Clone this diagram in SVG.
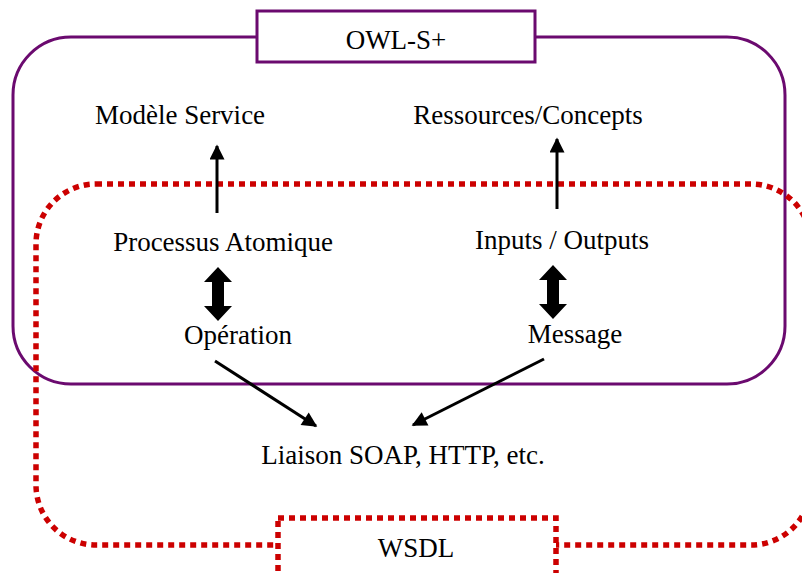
<svg xmlns="http://www.w3.org/2000/svg" width="802" height="573" viewBox="0 0 802 573">
<defs>
<style>
.lbl{font-family:"Liberation Serif","Times New Roman",serif;font-size:27px;fill:#000;text-anchor:middle}
.owl{fill:none;stroke:#6b0a6f;stroke-width:3}
.wsdl{fill:none;stroke:#cc0000;stroke-width:5.5;stroke-dasharray:6 5}
.line{stroke:#000;stroke-width:3;fill:none}
</style>
<marker id="ah" viewBox="0 0 10 10" refX="9" refY="5" markerWidth="5.5" markerHeight="5" orient="auto" markerUnits="strokeWidth">
<path d="M0,0 L10,5 L0,10 z" fill="#000"/>
</marker>
<path id="dbl" d="M0,-27 L14,-12 L6,-12 L6,12 L14,12 L0,27 L-14,12 L-6,12 L-6,-12 L-14,-12 z" fill="#000"/>
</defs>
<rect width="802" height="573" fill="#fff"/>
<g id="owls-container">
<rect class="owl" x="13" y="37" width="772" height="347" rx="58" ry="58"/>
</g>
<g id="wsdl-container">
<rect class="wsdl" x="36" y="184" width="775" height="361" rx="60" ry="60"/>
</g>
<g id="owls-label">
<rect x="257" y="11" width="278" height="51" fill="#fff" stroke="#6b0a6f" stroke-width="3"/>
<text class="lbl" x="396" y="49">OWL-S+</text>
</g>
<g id="wsdl-label">
<rect x="278" y="518" width="278" height="62" fill="#fff" stroke="#cc0000" stroke-width="5.5" stroke-dasharray="6 5"/>
<text class="lbl" x="416" y="557">WSDL</text>
</g>
<g id="modele-service"><text class="lbl" x="180" y="124">Modèle Service</text></g>
<g id="ressources-concepts"><text class="lbl" x="528" y="124">Ressources/Concepts</text></g>
<g id="processus-atomique"><text class="lbl" x="223" y="251">Processus Atomique</text></g>
<g id="inputs-outputs"><text class="lbl" x="562" y="249">Inputs / Outputs</text></g>
<g id="operation"><text class="lbl" x="238" y="344">Opération</text></g>
<g id="message"><text class="lbl" x="575" y="343">Message</text></g>
<g id="liaison"><text class="lbl" x="403" y="464">Liaison SOAP, HTTP, etc.</text></g>
<g id="connectors">
<line class="line" x1="217" y1="213" x2="217" y2="146" marker-end="url(#ah)"/>
<line class="line" x1="557" y1="209" x2="557" y2="139" marker-end="url(#ah)"/>
<use href="#dbl" x="218" y="294"/>
<use href="#dbl" x="553" y="292"/>
<line class="line" x1="215" y1="361" x2="316" y2="426" marker-end="url(#ah)"/>
<line class="line" x1="544" y1="359" x2="413" y2="425" marker-end="url(#ah)"/>
</g>
</svg>
